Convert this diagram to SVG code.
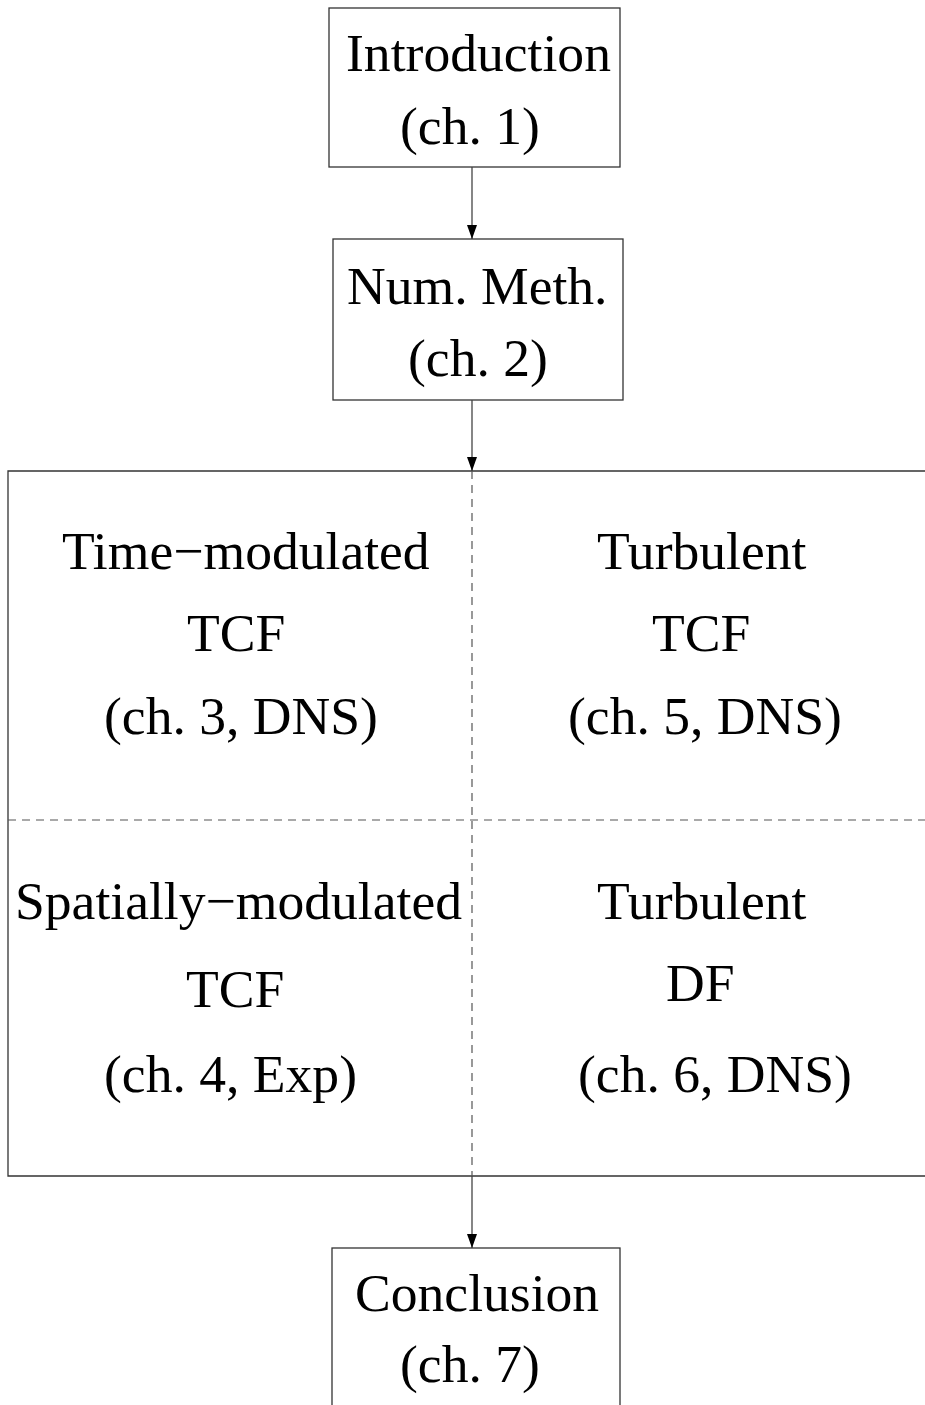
<svg xmlns="http://www.w3.org/2000/svg" width="925" height="1405" viewBox="0 0 925 1405">
<defs>
<style>
.box{fill:none;stroke:#333;stroke-width:1.3}
.t{font-family:"Liberation Serif","Times New Roman",serif;font-size:53.6px;fill:#000}
.dash{fill:none;stroke:#555;stroke-width:1.2;stroke-dasharray:8 6}
.conn{fill:none;stroke:#444;stroke-width:1.3}
</style>
<marker id="ah" viewBox="0 0 14 10" refX="14" refY="5" markerWidth="14" markerHeight="10" markerUnits="userSpaceOnUse" orient="auto">
<path d="M0,0 L14,5 L0,10 Z" fill="#000"/>
</marker>
</defs>
<rect width="925" height="1405" fill="#fff"/>

<g id="intro">
<rect class="box" x="329" y="8" width="291" height="159"/>
<text class="t" x="346" y="71">Introduction</text>
<text class="t" x="400" y="144">(ch. 1)</text>
</g>

<g id="nummeth">
<rect class="box" x="333" y="239" width="290" height="161"/>
<text class="t" x="347" y="304">Num. Meth.</text>
<text class="t" x="408" y="376">(ch. 2)</text>
</g>

<g id="block">
<path class="box" d="M930,471 L8,471 L8,1176 L930,1176"/>
<line class="dash" x1="472" y1="471" x2="472" y2="1176"/>
<line class="dash" x1="8" y1="820" x2="925" y2="820"/>
</g>

<g id="time-mod">
<text class="t" x="62" y="569">Time−modulated</text>
<text class="t" x="187" y="651">TCF</text>
<text class="t" x="104" y="734">(ch. 3, DNS)</text>
</g>

<g id="turb-tcf">
<text class="t" x="597" y="569">Turbulent</text>
<text class="t" x="652" y="651">TCF</text>
<text class="t" x="568" y="734">(ch. 5, DNS)</text>
</g>

<g id="spat-mod">
<text class="t" x="15" y="919">Spatially−modulated</text>
<text class="t" x="186" y="1007">TCF</text>
<text class="t" x="104" y="1092">(ch. 4, Exp)</text>
</g>

<g id="turb-df">
<text class="t" x="597" y="919">Turbulent</text>
<text class="t" x="666" y="1001">DF</text>
<text class="t" x="578" y="1092">(ch. 6, DNS)</text>
</g>

<g id="conclusion">
<rect class="box" x="332" y="1248" width="288" height="200"/>
<text class="t" x="355" y="1311">Conclusion</text>
<text class="t" x="400" y="1382">(ch. 7)</text>
</g>

<g id="connectors">
<line class="conn" x1="472" y1="167" x2="472" y2="239" marker-end="url(#ah)"/>
<line class="conn" x1="472" y1="400" x2="472" y2="471" marker-end="url(#ah)"/>
<line class="conn" x1="472" y1="1176" x2="472" y2="1248" marker-end="url(#ah)"/>
</g>
</svg>
